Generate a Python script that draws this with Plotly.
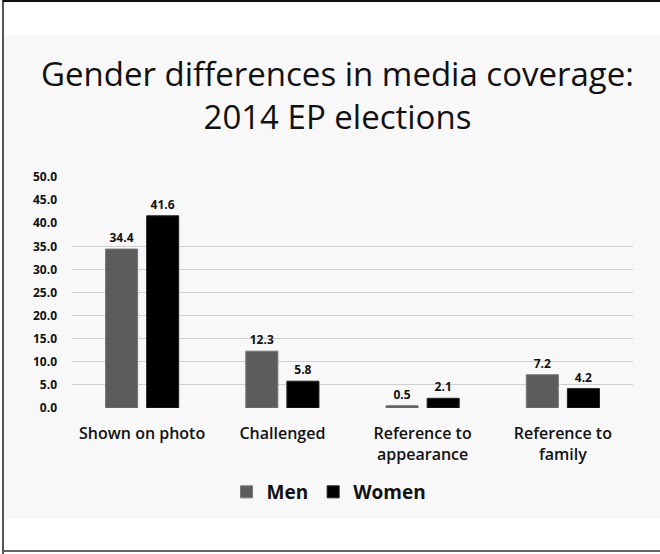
import plotly.graph_objects as go

categories = ["Shown on photo", "Challenged", "Reference to<br>appearance", "Reference to<br>family"]
men = [34.4, 12.3, 0.5, 7.2]
women = [41.6, 5.8, 2.1, 4.2]
y_ticks = [0, 5, 10, 15, 20, 25, 30, 35, 40, 45, 50]
grid_ticks = [0, 5, 10, 15, 20, 25, 30, 35]
title_text = "Gender differences in media coverage:<br>2014 EP elections"

PLOT_TOP, PLOT_BOTTOM, PLOT_LEFT, PLOT_W = 177, 408, 72, 561
H = PLOT_BOTTOM - PLOT_TOP


def py(px):
    return (PLOT_BOTTOM - px) / H


def pxx(px):
    return (px - PLOT_LEFT) / PLOT_W


fig = go.Figure()
fig.add_trace(go.Bar(
    name="Men", x=categories, y=men, marker=dict(color="#5c5c5c", line=dict(color="#777", width=1)),
    text=[f"{v:.1f}" for v in men], textposition="outside", cliponaxis=False,
    textfont=dict(family="Open Sans", size=12, color="#111", weight="bold"),
))
fig.add_trace(go.Bar(
    name="Women", x=categories, y=women, marker=dict(color="#000000", line=dict(color="#222", width=1)),
    text=[f"{v:.1f}" for v in women], textposition="outside", cliponaxis=False,
    textfont=dict(family="Open Sans", size=12, color="#111", weight="bold"),
))
fig.add_trace(go.Scatter(x=[categories[0]], y=[0], yaxis="y2", mode="markers",
                         marker=dict(opacity=0), showlegend=False, hoverinfo="skip"))

annotations = [
    dict(text=title_text, xref="paper", yref="paper", x=pxx(337), y=py(95),
         xanchor="center", yanchor="middle", showarrow=False,
         font=dict(family="Open Sans", size=33, color="#111", weight=500)),
]

fig.update_layout(
    width=660, height=554,
    margin=dict(l=PLOT_LEFT, r=660 - PLOT_LEFT - PLOT_W, t=PLOT_TOP, b=554 - PLOT_BOTTOM),
    paper_bgcolor="white", plot_bgcolor="rgba(0,0,0,0)",
    barmode="group", bargap=0.414, bargroupgap=0.22,
    annotations=annotations,
    xaxis=dict(showgrid=False, showline=False, ticks="", ticklabelstandoff=14,
               tickfont=dict(family="Open Sans", size=16, color="#111", weight=600)),
    yaxis=dict(range=[0, 50], tickvals=y_ticks, ticktext=[f"{v:.1f}" for v in y_ticks],
               showgrid=False, zeroline=False, showline=False, ticks="",
               ticklabelstandoff=14,
               tickfont=dict(family="Open Sans", size=12, color="#111", weight="bold")),
    yaxis2=dict(range=[0, 50], overlaying="y", tickvals=grid_ticks, showticklabels=False,
                showgrid=True, gridcolor="#cfcfcf", gridwidth=1, zeroline=False, ticks=""),
    legend=dict(orientation="h", x=pxx(329), xanchor="center", y=py(473), yanchor="top",
                font=dict(family="Open Sans", size=19, color="#111", weight="bold"),
                itemwidth=30, traceorder="normal", bgcolor="rgba(0,0,0,0)"),
    shapes=[
        dict(type="rect", xref="paper", yref="paper", x0=pxx(4), x1=pxx(700),
             y0=py(519), y1=py(35), fillcolor="#f8f8f8", line=dict(width=0), layer="below"),
        dict(type="line", xref="paper", yref="paper", x0=pxx(3), x1=pxx(3),
             y0=py(554), y1=py(0), line=dict(color="#555", width=2)),
        dict(type="line", xref="paper", yref="paper", x0=pxx(3), x1=pxx(700),
             y0=py(1), y1=py(1), line=dict(color="#111", width=2)),
        dict(type="line", xref="paper", yref="paper", x0=pxx(3), x1=pxx(700),
             y0=py(551), y1=py(551), line=dict(color="#666", width=2)),
    ],
)
fig.write_html("out.html")
